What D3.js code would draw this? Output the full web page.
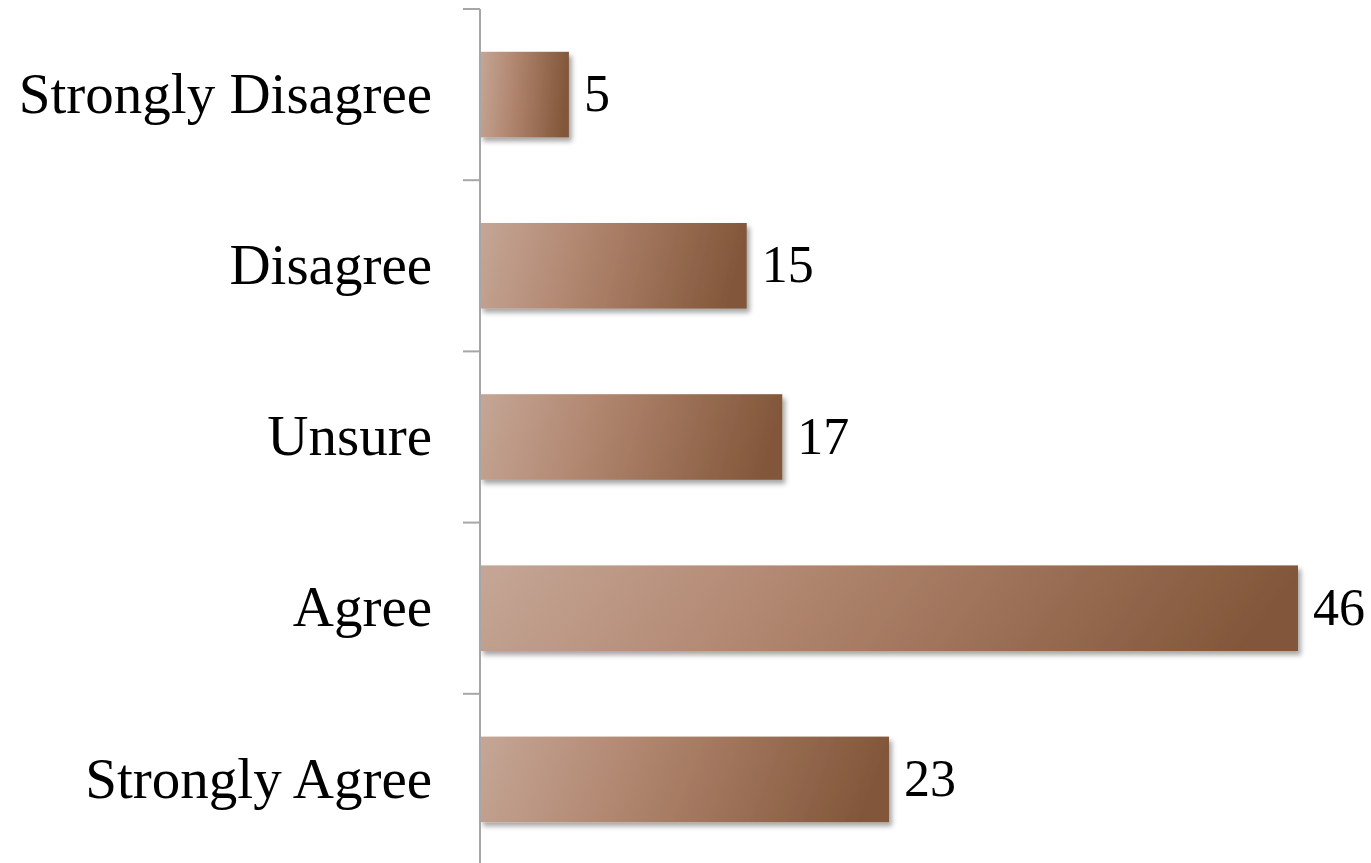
<!DOCTYPE html>
<html>
<head>
<meta charset="utf-8">
<script src="https://cdn.jsdelivr.net/npm/d3@7"></script>
<style>
  body { margin: 0; background: #fff; }
  text { font-family: "Liberation Serif", "DejaVu Serif", serif; fill: #000; }
</style>
</head>
<body>
<div id="chart"></div>
<script>
// Data
const categories = ['Strongly Disagree', 'Disagree', 'Unsure', 'Agree', 'Strongly Agree'];
const values = [5, 15, 17, 46, 23];

const width = 1371, height = 863;
const margin = { top: 9, left: 480 };

const svg = d3.select('#chart')
    .append('svg')
    .attr('width', width)
    .attr('height', height);

const defs = svg.append('defs');

// Bar gradient, light on the left to dark brown on the right
const grad = defs.append('linearGradient')
    .attr('id', 'barGrad')
    .attr('x1', '0%').attr('y1', '0%')
    .attr('x2', '100%').attr('y2', '8%');
grad.append('stop').attr('offset', '0%').attr('stop-color', '#c5a696');
grad.append('stop').attr('offset', '40%').attr('stop-color', '#b1866f');
grad.append('stop').attr('offset', '100%').attr('stop-color', '#82573a');

// Soft drop shadow
const shadow = defs.append('filter')
    .attr('id', 'shadow')
    .attr('x', '-10%').attr('y', '-10%')
    .attr('width', '130%').attr('height', '140%');
shadow.append('feDropShadow')
    .attr('dx', 3).attr('dy', 4)
    .attr('stdDeviation', 2.5)
    .attr('flood-color', '#000')
    .attr('flood-opacity', 0.35);

// Scales
const x = d3.scaleLinear()
    .domain([0, 46])
    .range([margin.left, 1298]);

const y = d3.scaleBand()
    .domain(categories)
    .range([margin.top, 865])
    .paddingInner(0.5)
    .paddingOuter(0.25);

// Bars
svg.selectAll('.bar')
    .data(values)
    .join('rect')
    .attr('class', 'bar')
    .attr('x', x(0))
    .attr('y', (d, i) => y(categories[i]))
    .attr('width', d => x(d) - x(0))
    .attr('height', y.bandwidth())
    .attr('fill', 'url(#barGrad)')
    .attr('filter', 'url(#shadow)');

// Value labels
svg.selectAll('.value')
    .data(values)
    .join('text')
    .attr('class', 'value')
    .attr('x', d => x(d) + 15)
    .attr('y', (d, i) => y(categories[i]) + y.bandwidth() / 2)
    .attr('dy', '0.32em')
    .attr('font-size', 52)
    .text(d => d);

// Category axis with ticks between bands
const axis = svg.append('g');
const step = y.step();
const tickYs = d3.range(categories.length + 1).map(i => margin.top + i * step);

axis.append('line')
    .attr('x1', margin.left).attr('x2', margin.left)
    .attr('y1', margin.top).attr('y2', height)
    .attr('stroke', '#a6a6a6')
    .attr('stroke-width', 2);

axis.selectAll('.tick')
    .data(tickYs)
    .join('line')
    .attr('class', 'tick')
    .attr('x1', margin.left - 17).attr('x2', margin.left)
    .attr('y1', d => d).attr('y2', d => d)
    .attr('stroke', '#a6a6a6')
    .attr('stroke-width', 2);

axis.selectAll('.label')
    .data(categories)
    .join('text')
    .attr('class', 'label')
    .attr('x', margin.left - 48)
    .attr('y', d => y(d) + y.bandwidth() / 2)
    .attr('dy', '0.32em')
    .attr('text-anchor', 'end')
    .attr('font-size', 57)
    .text(d => d);
</script>
</body>
</html>
